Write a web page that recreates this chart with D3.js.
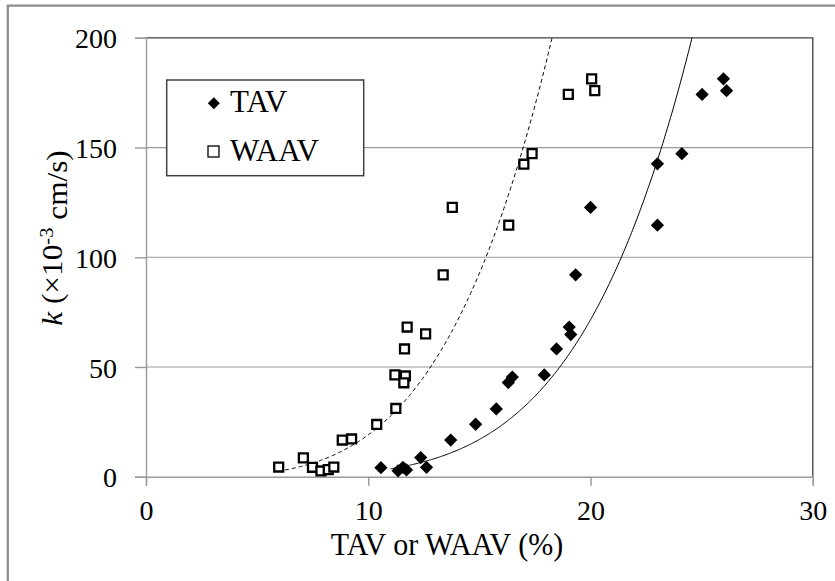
<!DOCTYPE html>
<html>
<head>
<meta charset="utf-8">
<script src="https://cdn.jsdelivr.net/npm/d3@7"></script>
</head>
<body style="margin:0">
<script>
// values
const tavX  = [10.57, 11.34, 11.56, 11.72, 12.36, 12.62, 13.71, 14.83, 15.76, 16.3, 16.48, 17.92, 18.47, 19.04, 19.11, 19.33, 20.0, 23.01, 23.01, 24.11, 25.02, 25.98, 26.12];
const tavK  = [4.1, 2.7, 4.3, 3.1, 8.7, 4.3, 16.7, 23.9, 30.9, 42.9, 45.4, 46.4, 58.2, 68.2, 64.8, 92, 122.7, 114.6, 142.6, 147.2, 174.2, 181.3, 175.9];
const waavX = [5.97, 7.08, 7.49, 7.87, 8.2, 8.45, 8.83, 9.25, 10.38, 11.24, 11.2, 11.67, 11.6, 11.63, 11.75, 12.58, 13.37, 13.78, 16.32, 17.0, 17.37, 19.0, 20.05, 20.19];
const waavK = [4.4, 8.6, 4.3, 2.6, 3.2, 4.4, 16.7, 17.2, 23.8, 31.1, 46.4, 45.9, 42.8, 58.2, 68.2, 65.1, 92, 122.7, 114.6, 142.4, 147.2, 174.2, 181.3, 175.9];

// power trendlines k = k0 * (x / x0)^n: [x0, k0, n]
const tavFit  = [11.0, 3.6, 5.0];
const waavFit = [6.25, 3.05, 3.9];

const xTicks = [0, 10, 20, 30];
const yTicks = [0, 50, 100, 150, 200];
const legendLabels = ["TAV", "WAAV"];

const FONT = '"Liberation Serif", "Times New Roman", Tinos, serif';
const W = 835, H = 581;
let svg = d3.select('body').append('svg')
    .attr('width', W).attr('height', H)
    .style('display', 'block');

svg.append('rect').attr('width', W).attr('height', H).attr('fill', '#fff');

// outer frame (only top and left edges are in view)
svg.append('path')
    .attr('d', `M7.8,${H + 5}V5.7H${W + 5}`)
    .attr('fill', 'none').attr('stroke', '#8c8c8c').attr('stroke-width', 2.2);

let x = d3.scaleLinear().domain([0, 30]).range([146, 812.8]);
let y = d3.scaleLinear().domain([0, 200]).range([476.7, 37.8]);

// grid
svg.append('g').selectAll('line')
    .data(yTicks.filter(d => d > 0 && d < 200))
    .join('line')
    .attr('x1', x(0)).attr('x2', x(30))
    .attr('y1', d => y(d)).attr('y2', d => y(d))
    .attr('stroke', '#9a9a9a').attr('stroke-width', 1.2);

// plot border top & right
svg.append('path')
    .attr('d', `M${x(0)},${y(200)}H${x(30)}V${y(0)}`)
    .attr('fill', 'none').attr('stroke', '#404040').attr('stroke-width', 1.3);

// axes
let xAxis = svg.append('g')
    .attr('transform', `translate(0,${y(0)})`)
    .call(d3.axisBottom(x).tickValues(xTicks).tickSize(9).tickPadding(17));
let yAxis = svg.append('g')
    .attr('transform', `translate(${x(0)},0)`)
    .call(d3.axisLeft(y).tickValues(yTicks).tickSize(11).tickPadding(18));

[xAxis, yAxis].forEach(a => {
    a.attr('font-family', null).attr('font-size', null);
    a.select('.domain').attr('stroke', '#9a9a9a').attr('stroke-width', 1.4);
    a.selectAll('.tick line').attr('stroke', '#9a9a9a').attr('stroke-width', 1.4);
    a.selectAll('.tick text').attr('fill', '#000')
        .style('font-family', FONT).style('font-size', '28px');
});
yAxis.selectAll('.tick text').attr('dy', '0.36em');
xAxis.selectAll('.tick text').attr('dy', '0.62em');

// trendlines
function fitPoints(fit) {
    let [x0, k0, n] = fit;
    let xEnd = x0 * Math.pow(200 / k0, 1 / n);
    let pts = d3.range(x0, xEnd, 0.05).map(v => [v, k0 * Math.pow(v / x0, n)]);
    pts.push([xEnd, 200]);
    return pts;
}
let line = d3.line().x(d => x(d[0])).y(d => y(d[1]));

svg.append('path')
    .attr('d', line(fitPoints(waavFit)))
    .attr('fill', 'none').attr('stroke', '#000').attr('stroke-width', 1)
    .attr('stroke-dasharray', '4,3');
svg.append('path')
    .attr('d', line(fitPoints(tavFit)))
    .attr('fill', 'none').attr('stroke', '#000').attr('stroke-width', 1);

// markers
const diamond = d3.symbol(d3.symbolSquare, 88);
const square = d3.symbol(d3.symbolSquare, 80);

svg.append('g').selectAll('path')
    .data(waavX.map((v, i) => [v, waavK[i]]))
    .join('path')
    .attr('d', square)
    .attr('transform', d => `translate(${x(d[0])},${y(d[1])})`)
    .attr('fill', '#fff').attr('stroke', '#000').attr('stroke-width', 2.3);

svg.append('g').selectAll('path')
    .data(tavX.map((v, i) => [v, tavK[i]]))
    .join('path')
    .attr('d', diamond)
    .attr('transform', d => `translate(${x(d[0])},${y(d[1])}) rotate(45)`)
    .attr('fill', '#000');

// legend
let lg = svg.append('g');
lg.append('rect')
    .attr('x', 166.7).attr('y', 80).attr('width', 197).attr('height', 95.7)
    .attr('fill', '#fff').attr('stroke', '#404040').attr('stroke-width', 1.5);
lg.append('path')
    .attr('d', d3.symbol(d3.symbolSquare, 72))
    .attr('transform', 'translate(213.8,103.3) rotate(45)')
    .attr('fill', '#000');
lg.append('rect')
    .attr('x', 208).attr('y', 146).attr('width', 11).attr('height', 11)
    .attr('fill', '#fff').attr('stroke', '#000').attr('stroke-width', 1.3);
lg.selectAll('text.lbl')
    .data(legendLabels)
    .join('text')
    .attr('class', 'lbl')
    .attr('x', 230)
    .attr('y', (d, i) => 112 + i * 48.5)
    .style('font-family', FONT)
    .style('font-size', '31px')
    .text(d => d);

// axis titles
svg.append('text')
    .attr('x', 447).attr('y', 555)
    .attr('text-anchor', 'middle')
    .attr('transform', 'translate(0,555) scale(1,1.08) translate(0,-555)')
    .style('font-family', FONT).style('font-size', '30px')
    .text('TAV or WAAV (%)');

let yt = svg.append('text')
    .attr('transform', 'translate(62,238) rotate(-90) scale(1.08,1)')
    .attr('text-anchor', 'middle')
    .style('font-family', FONT).style('font-size', '29px');
yt.append('tspan').style('font-style', 'italic').text('k');
yt.append('tspan').text(' (\u00d710');
yt.append('tspan').attr('dy', '-0.45em').style('font-size', '19px').text('-3');
yt.append('tspan').attr('dy', '0.45em').text(' cm/s)');
</script>
</body>
</html>
